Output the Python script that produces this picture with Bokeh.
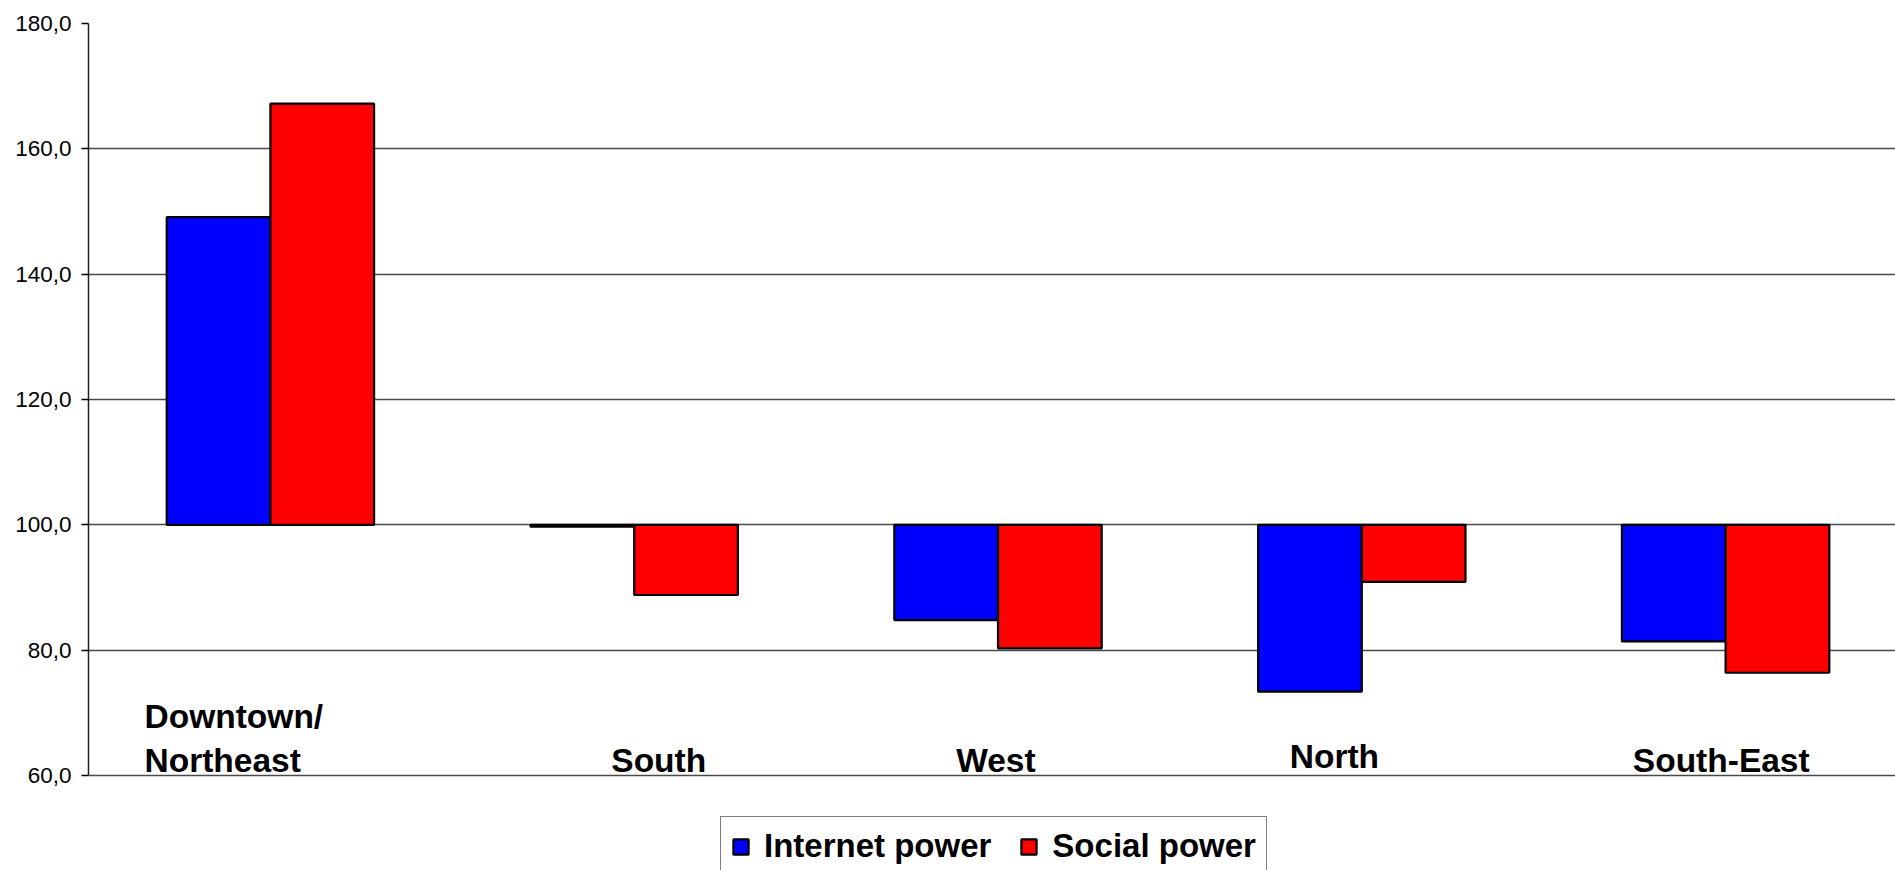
from bokeh.plotting import figure
from bokeh.models import Range1d, FixedTicker, Legend, LegendItem, ColumnDataSource
from bokeh.core.properties import value
from bokeh.embed import file_html
from bokeh.resources import INLINE

# ---- data ----
categories = ["Downtown/\nNortheast", "South", "West", "North", "South-East"]
internet_power = [149.1, 99.7, 84.8, 73.4, 81.4]
social_power = [167.2, 88.8, 80.3, 90.9, 76.4]
series_names = ["Internet power", "Social power"]
y_ticks = [60, 80, 100, 120, 140, 160, 180]
y_tick_labels = ["60,0", "80,0", "100,0", "120,0", "140,0", "160,0", "180,0"]
baseline = 100

# ---- layout parameters ----
bar_w = 0.285
label_dx = [0.154, 0.437, 0.385, 0.302, 0.245]
label_y = [60.55, 60.55, 60.55, 61.1, 60.55]
FONT = "Liberation Sans"
px_per_unit = (775 - 23) / 120.0
y_start = 60 - (870 - 775) / px_per_unit

p = figure(width=1895, height=870, output_backend="svg", toolbar_location=None,
           x_range=Range1d(0, 4.967), y_range=Range1d(y_start, 180),
           x_axis_location=None, min_border_left=88, min_border_top=23,
           min_border_bottom=0, min_border_right=0)
p.outline_line_color = None
p.xgrid.visible = False
p.ygrid.ticker = FixedTicker(ticks=y_ticks)
p.ygrid.grid_line_color = "#4a4a4a"
p.ygrid.grid_line_width = 1.5

ax = p.yaxis[0]
ax.ticker = FixedTicker(ticks=y_ticks)
ax.bounds = (60, 180)
ax.major_label_overrides = {t: l for t, l in zip(y_ticks, y_tick_labels)}
ax.major_label_text_font = FONT
ax.major_label_text_font_size = "22.5px"
ax.major_label_text_color = "black"
ax.major_tick_in = 0
ax.major_tick_out = 7
ax.minor_tick_line_color = None
ax.major_tick_line_color = "black"
ax.major_tick_line_width = 1.5
ax.axis_line_color = "#222222"
ax.axis_line_width = 1.5
ax.major_label_standoff = 10

n = len(categories)
xs_i = [i + 0.5 - bar_w / 2 for i in range(n)]
xs_s = [i + 0.5 + bar_w / 2 for i in range(n)]
src_i = ColumnDataSource(dict(x=xs_i, top=internet_power, bottom=[baseline] * n))
src_s = ColumnDataSource(dict(x=xs_s, top=social_power, bottom=[baseline] * n))
r1 = p.vbar(x="x", top="top", bottom="bottom", width=bar_w, source=src_i,
            fill_color="#0000ff", line_color="black", line_width=2.2)
r2 = p.vbar(x="x", top="top", bottom="bottom", width=bar_w, source=src_s,
            fill_color="#ff0000", line_color="black", line_width=2.2)

# category labels (inside plot, bold)
tx, ty, tt, toff = [], [], [], []
for i, c in enumerate(categories):
    lines = c.split("\n")
    for j, ln in enumerate(lines):
        tx.append(i + label_dx[i])
        ty.append(label_y[i])
        tt.append(ln)
        toff.append(-(len(lines) - 1 - j) * 44 - 12)
p.text(x=tx, y=ty, text=tt, y_offset=toff, text_font=value(FONT),
       text_font_style="bold", text_font_size="33.5px", text_color="black",
       text_align="left", text_baseline="alphabetic")

legend = Legend(items=[LegendItem(label=series_names[0], renderers=[r1]),
                       LegendItem(label=series_names[1], renderers=[r2])],
                orientation="horizontal", location=(632, -6))
legend.label_text_font = FONT
legend.label_text_font_style = "bold"
legend.label_text_font_size = "33px"
legend.label_text_color = "black"
legend.glyph_width = 19
legend.glyph_height = 19
legend.label_standoff = 14
legend.spacing = 28
legend.padding = 10
legend.margin = 0
legend.border_line_color = "black"
legend.border_line_width = 1.5
legend.background_fill_alpha = 1
p.add_layout(legend, "center")

open("out.html", "w").write(file_html(p, INLINE))
